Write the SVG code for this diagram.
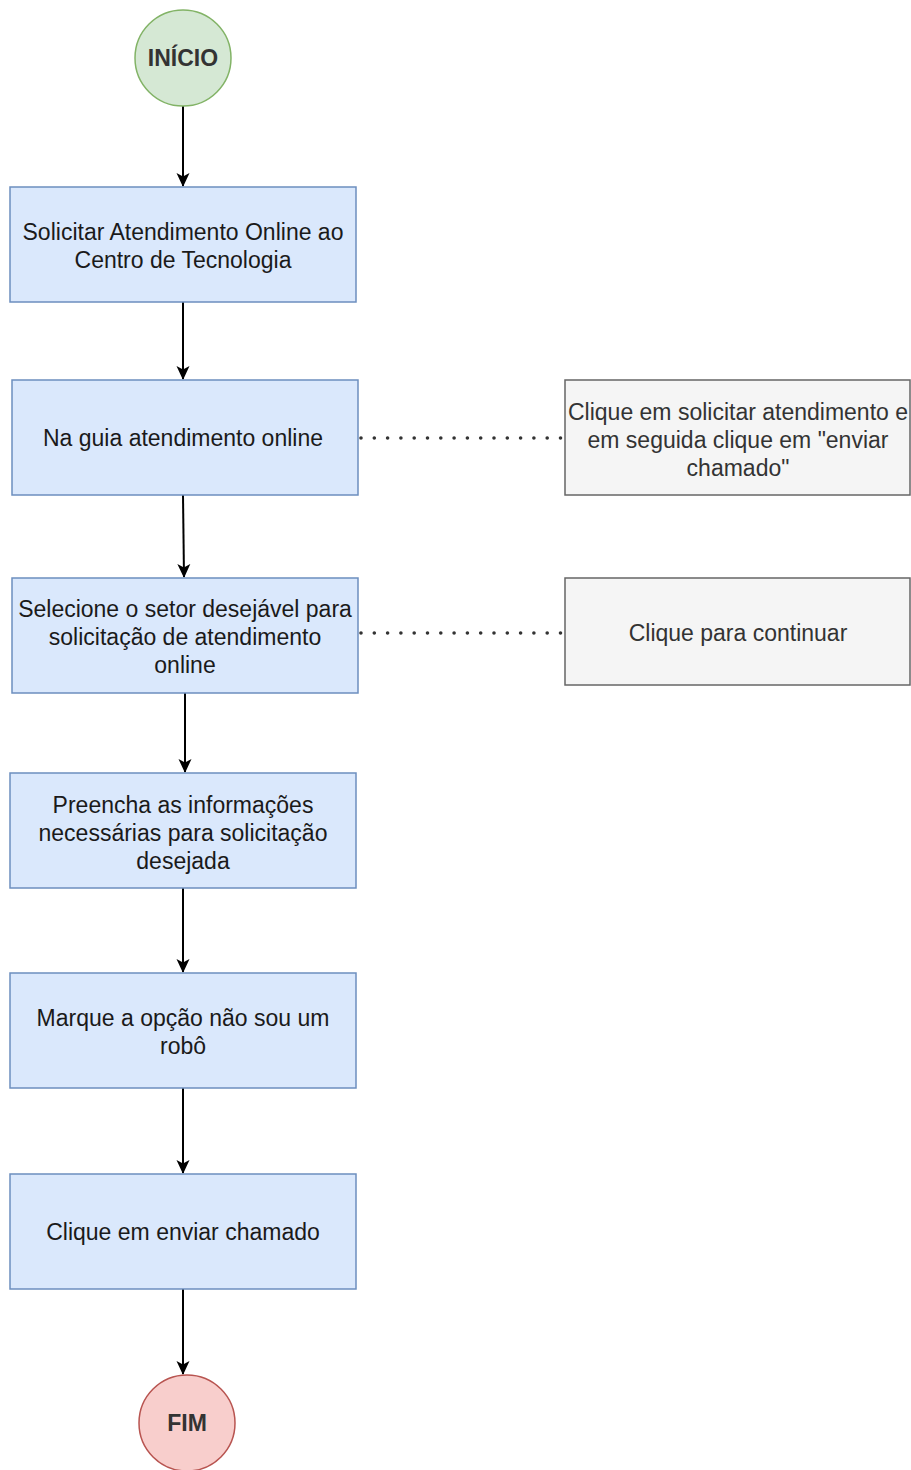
<svg xmlns="http://www.w3.org/2000/svg" width="911" height="1470" viewBox="0 0 911 1470">
<style>
.box{fill:#dae8fc;stroke:#6c8ebf;stroke-width:1.5}
.note{fill:#f5f5f5;stroke:#666666;stroke-width:1.5}
.t{font-family:"Liberation Sans",Arial,sans-serif;font-size:23px;fill:#1a1a1a;text-anchor:middle}
.b{font-weight:bold;fill:#333333}
.tn{font-family:"Liberation Sans",Arial,sans-serif;font-size:23px;fill:#333333;text-anchor:middle}
.e{stroke:#000;stroke-width:2;fill:none}
.d{stroke:#333;stroke-width:3.6;fill:none;stroke-dasharray:0 13.3;stroke-linecap:round}
</style>
<defs>
<marker id="ah" markerWidth="16" markerHeight="16" refX="13" refY="8" orient="auto" markerUnits="userSpaceOnUse">
<path d="M0,1.5 L14,8 L0,14.5 L3.5,8 Z" fill="#000"/>
</marker>
</defs>
<rect width="911" height="1470" fill="#ffffff"/>
<g id="connectors">
<line class="e" x1="183" y1="106" x2="183" y2="186" marker-end="url(#ah)"/>
<line class="e" x1="183" y1="302" x2="183" y2="379" marker-end="url(#ah)"/>
<line class="e" x1="183" y1="495" x2="184" y2="577" marker-end="url(#ah)"/>
<line class="e" x1="185" y1="693" x2="185" y2="772" marker-end="url(#ah)"/>
<line class="e" x1="183" y1="888" x2="183" y2="972" marker-end="url(#ah)"/>
<line class="e" x1="183" y1="1088" x2="183" y2="1173" marker-end="url(#ah)"/>
<line class="e" x1="183" y1="1289" x2="183" y2="1374" marker-end="url(#ah)"/>
<line class="d" x1="361" y1="438" x2="562" y2="438"/>
<line class="d" x1="361" y1="633" x2="562" y2="633"/>
</g>
<g id="inicio">
<circle cx="183" cy="58" r="48" fill="#d5e8d4" stroke="#82b366" stroke-width="1.5"/>
<text class="t b" x="183" y="66">INÍCIO</text>
</g>
<g id="n1">
<rect class="box" x="10" y="187" width="346" height="115"/>
<text class="t" x="183" y="240">Solicitar Atendimento Online ao</text>
<text class="t" x="183" y="268">Centro de Tecnologia</text>
</g>
<g id="n2">
<rect class="box" x="12" y="380" width="346" height="115"/>
<text class="t" x="183" y="446">Na guia atendimento online</text>
</g>
<g id="note1">
<rect class="note" x="565" y="380" width="345" height="115"/>
<text class="tn" x="738" y="420">Clique em solicitar atendimento e</text>
<text class="tn" x="738" y="448">em seguida clique em "enviar</text>
<text class="tn" x="738" y="476">chamado"</text>
</g>
<g id="n3">
<rect class="box" x="12" y="578" width="346" height="115"/>
<text class="t" x="185" y="617">Selecione o setor desejável para</text>
<text class="t" x="185" y="645">solicitação de atendimento</text>
<text class="t" x="185" y="673">online</text>
</g>
<g id="note2">
<rect class="note" x="565" y="578" width="345" height="107"/>
<text class="tn" x="738" y="641">Clique para continuar</text>
</g>
<g id="n4">
<rect class="box" x="10" y="773" width="346" height="115"/>
<text class="t" x="183" y="813">Preencha as informações</text>
<text class="t" x="183" y="841">necessárias para solicitação</text>
<text class="t" x="183" y="869">desejada</text>
</g>
<g id="n5">
<rect class="box" x="10" y="973" width="346" height="115"/>
<text class="t" x="183" y="1026">Marque a opção não sou um</text>
<text class="t" x="183" y="1054">robô</text>
</g>
<g id="n6">
<rect class="box" x="10" y="1174" width="346" height="115"/>
<text class="t" x="183" y="1240">Clique em enviar chamado</text>
</g>
<g id="fim">
<circle cx="187" cy="1423" r="48" fill="#f8cecc" stroke="#b85450" stroke-width="1.5"/>
<text class="t b" x="187" y="1431">FIM</text>
</g>
</svg>
